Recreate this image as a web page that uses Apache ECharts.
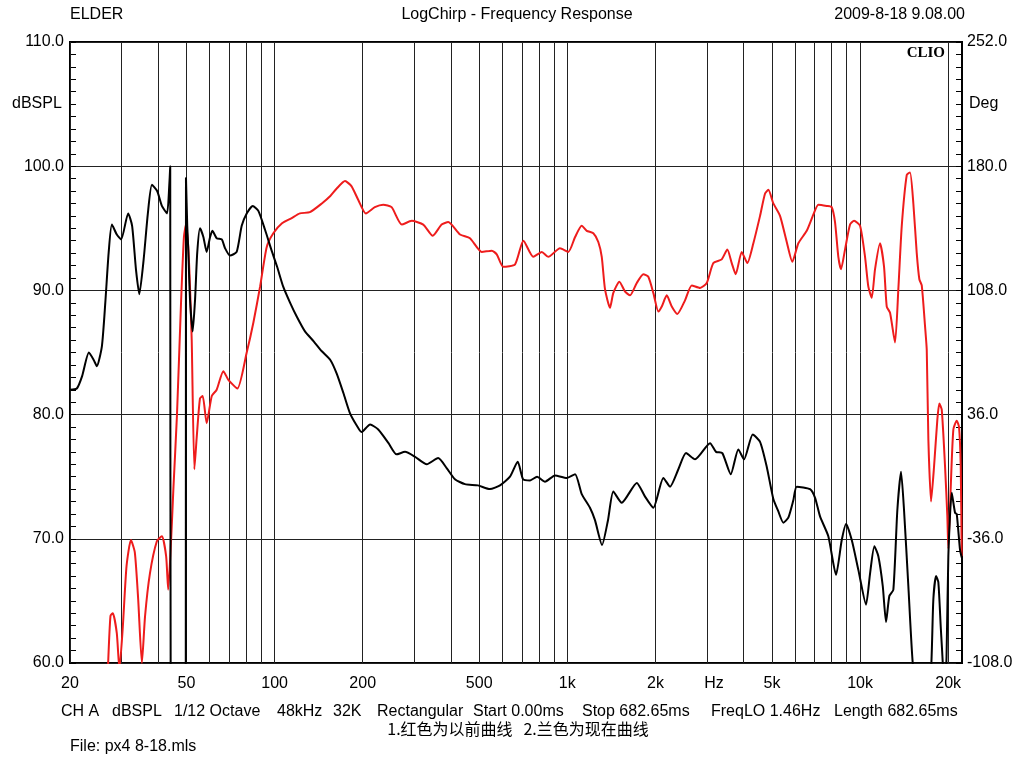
<!DOCTYPE html>
<html><head><meta charset="utf-8">
<script src="https://cdn.jsdelivr.net/npm/echarts@6/dist/echarts.min.js"></script>
<style>html,body{margin:0;padding:0;background:#fff}#c{width:1030px;height:758px}</style>
</head><body><div id="c"></div>
<script>
// Current curve (black), frequency in Hz and level in dBSPL
const blackFreq = [20,21.1,22,23.2,24.1,24.7,25.7,26.4,27.1,27.8,28.9,29.9,31.6,32.6,33.6,34.5,35.7,36.9,38.1,39.7,41.2,42.9,43.7,44.0,44.2,49.7,49.8,50.3,50.7,51.4,52.5,53.5,54.4,55.6,57.1,58.6,60.2,61.3,63.4,66.0,67.7,70.4,74.2,77.2,80.3,84.2,88.0,92.7,97.7,102,107,113,119,127,136,145,155,163,172,181,191,198,212,226,245,261,279,302,331,362,387,413,447,495,544,589,637,677,706,746,788,839,908,995,1063,1120,1195,1243,1314,1377,1436,1534,1727,1843,1967,2128,2243,2395,2544,2731,3073,3221,3385,3616,3838,4015,4300,4554,4800,5056,5259,5470,5689,5917,6078,6749,7020,7300,7792,8279,8660,8958,9369,9867,10483,10819,11191,11548,11956,12269,12592,12995,13409,13807,14135,14622,15136,16032,17343,17799,18184,18514,18867,19166,19364,19748,20028,20573,21111,21394,21957,22252];
const blackDb = [82.0,82.1,83.1,85.0,84.4,83.9,85.5,89.0,93.0,95.3,94.5,94.1,96.2,95.2,91.7,89.7,92.5,96.2,98.5,98.0,96.8,96.2,98.6,100.0,50,50,99.1,95.2,93.3,89.3,86.7,89.3,93.0,95.0,94.3,93.1,94.3,94.8,94.2,94.1,93.4,92.8,93.1,95.2,96.2,96.8,96.4,94.9,93.2,91.9,90.3,89.0,87.9,86.7,85.9,85.1,84.4,83.3,81.7,80.1,79.1,78.6,79.2,78.8,77.7,76.8,77.0,76.6,76.0,76.5,75.7,74.8,74.4,74.3,74.0,74.3,75.0,76.2,74.8,74.7,75.0,74.6,75.1,74.9,75.2,73.6,72.5,71.5,69.5,71.5,73.8,72.9,74.5,73.4,72.5,74.9,74.2,75.6,76.9,76.4,77.7,77.0,76.9,75.2,77.2,76.4,78.4,77.8,75.8,73.2,72.2,71.3,71.7,73.1,74.2,74.0,73.3,71.8,70.2,67.1,69.9,71.2,69.9,67.5,64.7,67.2,69.4,68.6,66.2,63.3,65.4,65.9,72.3,75.4,72.3,66.2,60.0,55,58,65.1,67.0,66.5,62.9,60.0,56,60.5,68.6,73.7,72.1,72.0,69.1,68.5];

// Previous curve (red)
const redFreq = [26.8,27.0,27.5,28.0,28.9,29.5,30.3,31.2,32.3,33.3,34.2,35.2,36.1,37.5,39.6,41.2,42.6,43.3,44.3,45.1,46.4,47.9,49.0,49.8,50.7,51.4,52.1,53.2,54.2,55.6,56.8,58.6,61.0,63.4,66.8,69.5,74.6,80.3,84.6,89.2,94.0,99.0,106,114,122,132,145,155,163,174,183,193,205,220,235,251,272,294,322,347,372,392,430,465,510,552,574,604,663,708,765,818,861,944,1008,1063,1120,1165,1227,1276,1311,1345,1399,1436,1506,1575,1638,1727,1819,1891,1967,2046,2102,2186,2274,2376,2524,2661,2840,2994,3154,3369,3521,3645,3761,3943,4121,4321,4554,4737,4862,5056,5329,5618,5870,6155,6575,6924,7203,7693,8002,8213,8430,8610,8887,9244,9540,10000,10401,10674,10964,11250,11702,12078,12337,12661,13169,13516,13884,14441,14819,15209,15620,15944,16248,16676,16900,17116,17482,17897,18369,18659,19016,19518,19872,20028,20413,20835,21394,21785,22080,22252];
const redDb = [57,60,63.8,64.0,62.4,59.5,62.9,67.8,69.9,68.9,65.1,60.0,63.8,67.2,69.8,70.2,68.6,65.9,69.9,74.0,80.0,89.0,94.3,95.3,93.5,90.3,86.0,75.6,78.2,81.3,81.5,79.3,81.5,82.0,83.5,82.8,82.1,85.0,87.4,90.3,93.5,94.6,95.4,95.8,96.2,96.3,97.0,97.6,98.2,98.8,98.4,97.3,96.2,96.7,96.9,96.7,95.3,95.6,95.3,94.4,95.3,95.5,94.5,94.2,93.1,93.2,92.9,91.9,92.1,94.0,92.7,93.1,92.7,93.4,93.1,94.3,95.2,94.8,94.6,93.9,92.7,90.1,88.6,89.8,90.7,89.9,89.6,90.6,91.3,91.1,89.8,88.3,88.7,89.6,88.7,88.1,89.2,90.4,90.2,90.6,92.2,92.5,93.3,92.2,91.3,93.1,92.2,93.8,96.0,97.8,98.1,97.0,96.0,93.9,92.3,93.8,94.8,96.1,96.9,96.8,96.7,95.5,92.7,91.7,93.3,95.3,95.6,95.2,92.7,90.3,89.4,91.7,93.8,91.9,88.7,88.2,85.8,90.1,95.2,99.3,99.5,97.0,93.0,90.9,90.4,87.1,85.2,78.0,73.0,75.8,79.6,80.9,80.4,75.8,71.8,69.2,74.2,78.8,79.5,79.0,75.8,68.6];

// Vertical grid lines and x tick labels
const gridFreqs = [20,30,40,50,60,70,80,90,100,200,300,400,500,600,700,800,900,1000,2000,3000,4000,5000,6000,7000,8000,9000,10000,20000];
const xLabelFreqs = [20,50,100,200,500,1000,2000,5000,10000,20000];
const xLabelTexts = ['20','50','100','200','500','1k','2k','5k','10k','20k'];

const FONT = '"Liberation Sans", Arial, sans-serif';
const chart = echarts.init(document.getElementById('c'), null, {renderer: 'canvas'});

const pair = (fs, vs) => fs.map((f, i) => [f, vs[i]]);

const gridMarks = gridFreqs.map(f => {
  const i = xLabelFreqs.indexOf(f);
  return {xAxis: f, name: i >= 0 ? xLabelTexts[i] : '', label: {show: i >= 0}};
});

function txt(x, y, text, align, font) {
  return {type: 'text', x: x, y: y, silent: true, z: 10,
    style: {text: text, fill: '#000', font: font || ('16px ' + FONT),
      textAlign: align || 'left', textVerticalAlign: 'middle'}};
}

const bottomFields = [[61,'CH A'],[112,'dBSPL'],[174,'1/12 Octave'],[277,'48kHz'],[333,'32K'],[377,'Rectangular'],[473,'Start 0.00ms'],[582,'Stop 682.65ms'],[711,'FreqLO 1.46Hz'],[834,'Length 682.65ms']];

const graphics = [
  txt(70, 15, 'ELDER', 'left'),
  txt(517, 15, 'LogChirp - Frequency Response', 'center'),
  txt(965, 15, '2009-8-18 9.08.00', 'right'),
  txt(12, 104, 'dBSPL', 'left'),
  txt(969, 104, 'Deg', 'left'),
  txt(945, 53, 'CLIO', 'right', 'bold 15px "Liberation Serif", "DejaVu Serif", serif'),
  txt(714, 684, 'Hz', 'center'),
  txt(518, 729, '1.红色为以前曲线   2.兰色为现在曲线', 'center', '16px "Noto Sans CJK SC", sans-serif'),
  txt(70, 747, 'File: px4 8-18.mls', 'left')
].concat(bottomFields.map(b => txt(b[0], 712, b[1], 'left')));

chart.setOption({
  animation: false,
  backgroundColor: '#fff',
  grid: {left: 70, right: 68, top: 42, bottom: 95, show: true, borderColor: '#000', borderWidth: 2, backgroundColor: 'transparent'},
  xAxis: {type: 'log', logBase: 10, min: 20, max: 22300,
    axisLine: {show: false}, axisTick: {show: false}, axisLabel: {show: false}, splitLine: {show: false}},
  yAxis: [
    {type: 'value', min: 60, max: 110, interval: 10, position: 'left',
      axisLine: {show: true, lineStyle: {color: '#000', width: 2}},
      axisTick: {show: true, length: -6, lineStyle: {color: '#000'}},
      minorTick: {show: true, splitNumber: 10, length: -6, lineStyle: {color: '#000'}},
      axisLabel: {color: '#000', fontSize: 16, fontFamily: FONT, margin: 6, formatter: v => v.toFixed(1)},
      splitLine: {show: true, lineStyle: {color: '#222', width: 1}}},
    {type: 'value', min: -108, max: 252, interval: 72, position: 'right',
      axisLine: {show: true, lineStyle: {color: '#000', width: 2}},
      axisTick: {show: true, length: -6, lineStyle: {color: '#000'}},
      minorTick: {show: true, splitNumber: 10, length: -6, lineStyle: {color: '#000'}},
      axisLabel: {color: '#000', fontSize: 16, fontFamily: FONT, margin: 5, formatter: v => v.toFixed(1)},
      splitLine: {show: false}}
  ],
  series: [
    {type: 'line', name: 'previous', data: pair(redFreq, redDb), yAxisIndex: 0,
      showSymbol: false, symbol: 'none', smooth: 0.2, z: 2,
      lineStyle: {color: '#ee1c1c', width: 2}, itemStyle: {color: '#ee1c1c'},
      markLine: {silent: true, z: 1, symbol: ['none', 'none'], animation: false,
        lineStyle: {color: '#222', width: 1, type: 'solid'},
        emphasis: {disabled: true},
        label: {position: 'start', distance: 13, formatter: '{b}', color: '#000', fontSize: 16, fontFamily: FONT},
        data: gridMarks}},
    {type: 'line', name: 'current', data: pair(blackFreq, blackDb), yAxisIndex: 0,
      showSymbol: false, symbol: 'none', smooth: 0.2, z: 3,
      lineStyle: {color: '#000', width: 2}, itemStyle: {color: '#000'}}
  ],
  graphic: graphics
});
</script>
</body></html>
